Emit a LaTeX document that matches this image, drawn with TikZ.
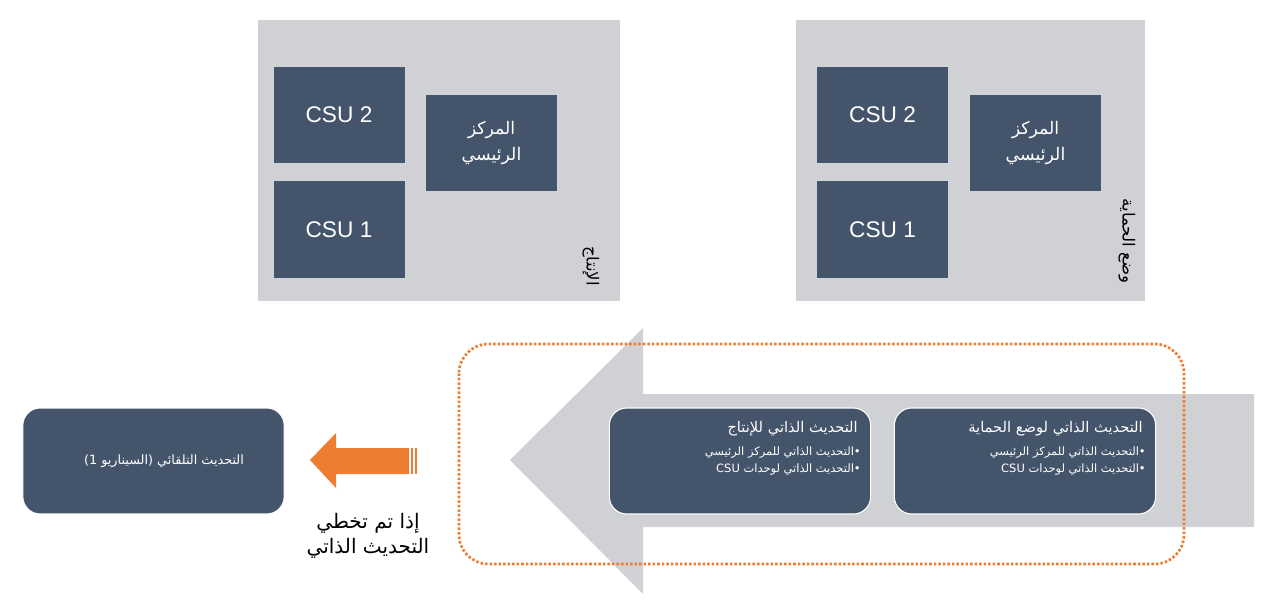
\documentclass[tikz,border=0pt]{standalone}
\usepackage{fontspec}
\setmainfont{Liberation Sans}
\newfontfamily\arabicfont[Script=Arabic]{DejaVu Sans}
\TeXXeTstate=1
\definecolor{panelgray}{HTML}{D0D1D4}
\definecolor{boxblue}{HTML}{44546A}
\definecolor{dotorange}{HTML}{ED7D31}
\newcommand{\ar}[1]{\arabicfont\beginR #1\endR}

\begin{document}
\begin{tikzpicture}[x=0.75pt,y=-0.75pt,
	unit/.style={rectangle,fill=boxblue,draw=white!75!boxblue,line width=0.6pt,
		minimum width=99pt,minimum height=73pt,text=white,align=center,inner sep=2pt},
	card/.style={rectangle,rounded corners=13pt,fill=boxblue,draw=white,line width=0.8pt,
		minimum width=196pt,minimum height=79.5pt},
	cardtitle/.style={anchor=north east,text=white,inner sep=0pt,font=\fontsize{11}{12}\selectfont},
	cardlist/.style={anchor=north east,text=white,inner sep=0pt,align=right,font=\fontsize{8.6}{12.4}\selectfont},
	sidelabel/.style={rotate=-90,text=black,inner sep=0pt,font=\fontsize{12.5}{14}\selectfont}]
\useasboundingbox (0,0) rectangle (1276,616);
% panels
\fill[panelgray] (258,20) rectangle (620,301);
\fill[panelgray] (796,20) rectangle (1145,301);
\node[unit,font=\fontsize{17}{18}\selectfont] (csuA2) at (339,115) {CSU 2};
\node[unit,font=\fontsize{17}{18}\selectfont] (csuA1) at (339,229.5) {CSU 1};
\node[unit,font=\fontsize{13}{20}\selectfont] (mainA) at (491.5,143) {\ar{المركز}\\\ar{الرئيسي}};
\node[unit,font=\fontsize{17}{18}\selectfont] (csuB2) at (882.5,115) {CSU 2};
\node[unit,font=\fontsize{17}{18}\selectfont] (csuB1) at (882.5,229.5) {CSU 1};
\node[unit,font=\fontsize{13}{20}\selectfont] (mainB) at (1035.5,143) {\ar{المركز}\\\ar{الرئيسي}};
\node[sidelabel] (prodlabel) at (591,266) {\ar{الإنتاج}};
\node[sidelabel] (protlabel) at (1127,241) {\ar{وضع الحماية}};
% big arrow and dotted frame
\fill[panelgray] (510,460) -- (643,328) -- (643,394) -- (1254,394) -- (1254,527)
	-- (643,527) -- (643,594) -- cycle;
\draw[dotorange,line width=2pt,dash pattern=on 1.9pt off 1.5pt,rounded corners=22pt]
	(459,344) rectangle (1184,564);
% cards
\node[card] (prodcard) at (740,461) {};
\node[card] (protcard) at (1025,461) {};
\node[card] (autocard) at (153.5,461) {};
\node[cardtitle] at (858,421) {\ar{التحديث الذاتي للإنتاج}};
\node[cardlist] at (861,447) {\ar{•التحديث الذاتي للمركز الرئيسي}\\\ar{•التحديث الذاتي لوحدات \beginL CSU\endL}};
\node[cardtitle] at (1143,421) {\ar{التحديث الذاتي لوضع الحماية}};
\node[cardlist] at (1146,447) {\ar{•التحديث الذاتي للمركز الرئيسي}\\\ar{•التحديث الذاتي لوحدات \beginL CSU\endL}};
\node[text=white,font=\fontsize{9.6}{12}\selectfont] at (164,461) {\ar{التحديث التلقائي (السيناريو 1)}};
% orange arrow
\fill[dotorange] (310,460) -- (336,433) -- (336,448) -- (409,448) -- (409,474)
	-- (336,474) -- (336,488) -- cycle;
\fill[dotorange] (411,448) rectangle (413,474);
\fill[dotorange] (415,448) rectangle (417,474);
\node[text=black,align=center,font=\fontsize{15}{19}\selectfont] (skiptext) at (368,536)
	{\ar{إذا تم تخطي}\\\ar{التحديث الذاتي}};
\end{tikzpicture}
\end{document}
